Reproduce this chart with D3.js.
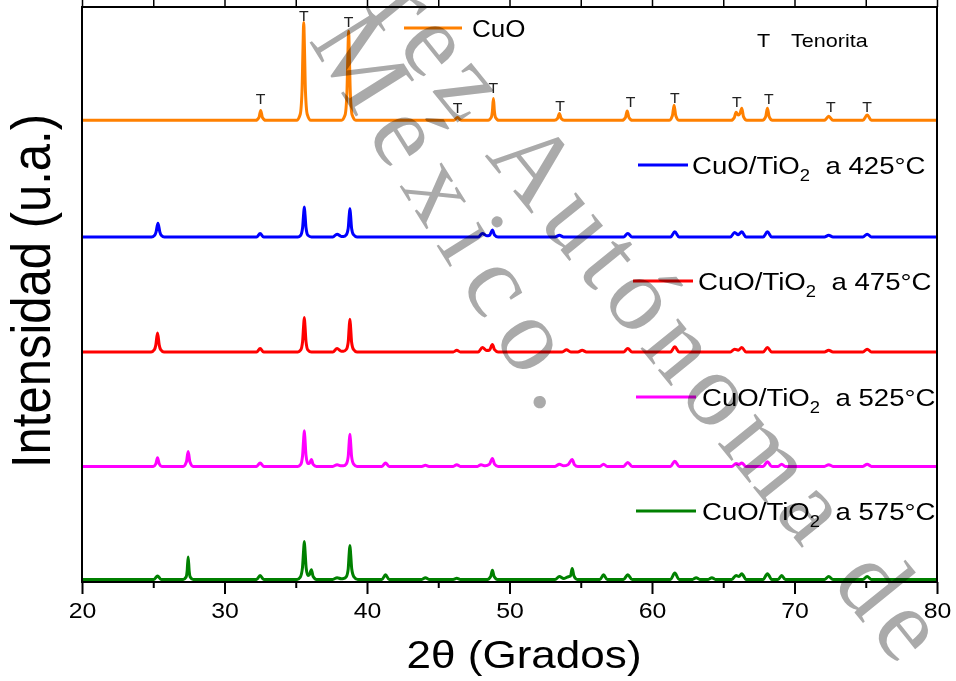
<!DOCTYPE html>
<html><head><meta charset="utf-8">
<script src="https://cdn.jsdelivr.net/npm/d3@7"></script>
<style>body{margin:0;background:#fff}svg{display:block}text{font-family:Arial,"Liberation Sans",sans-serif}</style>
</head><body>
<svg id="c" width="956" height="681"></svg>
<script>
// ---- data ([2θ, relative intensity]) ----
const cuo = [
[20,0],[32.19,0],[32.42,0.5],[32.54,1.7],[32.66,0.5],[32.89,0],
[35.06,0],[35.31,1.0],[35.44,5.1],[35.51,12.8],[35.56,17],[35.61,12.8],[35.68,5.1],[35.81,1.0],[36.06,0],
[38.21,0],[38.46,0.9],[38.59,4.7],[38.66,11.6],[38.71,15.5],[38.76,11.6],[38.83,4.7],[38.96,0.9],[39.21,0],
[46.1,0],[46.35,0.5],[46.6,0],
[48.5,0],[48.72,0.5],[48.8,1.6],[48.87,3.8],[48.94,1.6],[49.02,0.5],[49.25,0],
[53.15,0],[53.38,0.36],[53.5,1.2],[53.62,0.36],[53.85,0],
[57.9,0],[58.14,0.5],[58.26,1.6],[58.38,0.5],[58.62,0],
[61.2,0],[61.43,0.8],[61.55,2.6],[61.67,0.8],[61.9,0],
[65.55,0],[65.78,0.5],[65.9,1.4],[66.05,0.9],[66.18,1.2],[66.3,2.1],[66.42,0.65],[66.65,0],
[67.75,0],[67.98,0.65],[68.1,2.1],[68.22,0.65],[68.45,0],
[72.1,0],[72.4,0.7],[72.7,0],
[74.8,0],[75.1,0.9],[75.4,0],
[80,0]];
const t425 = [
[20,0],[24.88,0],[25.1,0.3],[25.2,0.9],[25.33,2.4],[25.46,0.9],[25.56,0.3],[25.78,0],
[32.25,0],[32.5,0.6],[32.75,0],
[35.15,0],[35.35,0.3],[35.48,1.6],[35.55,3.9],[35.6,5.2],[35.65,3.9],[35.72,1.6],[35.85,0.3],[36.1,0],
[37.6,0],[37.9,0.5],[38.2,0.1],[38.35,0.1],[38.55,0.4],[38.68,1.5],[38.75,3.7],[38.8,4.9],[38.85,3.7],[38.92,1.5],[39.05,0.4],[39.3,0],
[47.8,0],[48.1,0.6],[48.4,0.2],[48.6,0.3],[48.8,1.2],[48.95,0.35],[49.2,0],
[53.2,0],[53.5,0.3],[53.8,0],
[58.0,0],[58.3,0.6],[58.6,0],
[61.3,0],[61.6,0.9],[61.9,0],
[65.5,0],[65.8,0.8],[66.05,0.4],[66.3,0.9],[66.6,0],
[67.8,0],[68.1,0.9],[68.4,0],
[72.1,0],[72.4,0.3],[72.7,0],
[74.8,0],[75.1,0.5],[75.4,0],
[80,0]];
const t475 = [
[20,0],[24.85,0],[25.08,0.4],[25.18,1.2],[25.3,3.3],[25.42,1.2],[25.52,0.4],[25.75,0],
[32.25,0],[32.5,0.6],[32.75,0],
[35.15,0],[35.35,0.35],[35.48,1.8],[35.55,4.5],[35.6,6.0],[35.65,4.5],[35.72,1.8],[35.85,0.35],[36.1,0],
[37.6,0],[37.9,0.6],[38.2,0.15],[38.35,0.15],[38.55,0.45],[38.68,1.7],[38.75,4.3],[38.8,5.7],[38.85,4.3],[38.92,1.7],[39.05,0.45],[39.3,0],
[46.05,0],[46.3,0.3],[46.55,0],
[47.8,0],[48.1,0.8],[48.4,0.25],[48.6,0.35],[48.8,1.3],[48.95,0.4],[49.2,0],
[53.7,0],[54.0,0.4],[54.3,0],
[54.8,0],[55.1,0.3],[55.4,0],
[58.0,0],[58.3,0.6],[58.6,0],
[61.3,0],[61.6,0.9],[61.9,0],
[65.5,0],[65.8,0.5],[66.05,0.3],[66.3,0.8],[66.6,0],
[67.8,0],[68.1,0.8],[68.4,0],
[72.1,0],[72.4,0.3],[72.7,0],
[74.8,0],[75.1,0.5],[75.4,0],
[80,0]];
const t525 = [
[20,0],[25.0,0],[25.18,0.45],[25.3,1.5],[25.42,0.45],[25.6,0],
[27.1,0],[27.33,0.8],[27.45,2.6],[27.57,0.8],[27.8,0],
[32.25,0],[32.5,0.6],[32.75,0],
[35.15,0],[35.35,0.35],[35.48,1.9],[35.55,4.6],[35.6,6.2],[35.65,4.6],[35.72,1.9],[35.85,0.5],[35.95,0.5],[36.1,1.2],[36.22,0.35],[36.45,0],
[37.6,0],[37.9,0.3],[38.2,0.1],[38.35,0.1],[38.55,0.45],[38.68,1.7],[38.75,4.2],[38.8,5.6],[38.85,4.2],[38.92,1.7],[39.05,0.45],[39.3,0],
[41.05,0],[41.3,0.6],[41.55,0],
[43.85,0],[44.1,0.2],[44.35,0],
[46.05,0],[46.3,0.3],[46.55,0],
[47.75,0],[48.0,0.3],[48.3,0.1],[48.6,0.4],[48.8,1.4],[48.95,0.4],[49.2,0],
[53.2,0],[53.5,0.4],[53.8,0.1],[54.1,0.3],[54.4,1.2],[54.55,0.35],[54.8,0],
[56.35,0],[56.6,0.4],[56.85,0],
[58.0,0],[58.3,0.7],[58.6,0],
[61.3,0],[61.6,0.9],[61.9,0],
[65.6,0],[65.9,0.5],[66.1,0.35],[66.3,0.6],[66.6,0],
[67.8,0],[68.1,0.8],[68.4,0],
[68.85,0],[69.1,0.4],[69.35,0],
[72.1,0],[72.4,0.3],[72.7,0],
[74.8,0],[75.1,0.4],[75.4,0],
[80,0]];
const t575 = [
[20,0],[25.05,0],[25.3,0.6],[25.55,0],
[27.1,0],[27.3,0.4],[27.38,1.5],[27.45,3.9],[27.52,1.5],[27.6,0.4],[27.8,0],
[32.25,0],[32.5,0.7],[32.75,0],
[35.1,0],[35.32,0.4],[35.47,2.0],[35.55,5.0],[35.6,6.6],[35.65,5.0],[35.73,2.0],[35.85,0.7],[35.95,0.8],[36.1,1.7],[36.22,0.5],[36.45,0],
[37.6,0],[37.9,0.3],[38.2,0.1],[38.35,0.15],[38.55,0.5],[38.68,1.8],[38.75,4.5],[38.8,5.9],[38.85,4.5],[38.93,1.8],[39.07,0.5],[39.35,0],
[41.05,0],[41.3,0.8],[41.55,0],
[43.85,0],[44.1,0.3],[44.35,0],
[46.05,0],[46.3,0.2],[46.55,0],
[48.45,0],[48.68,0.5],[48.8,1.6],[48.92,0.5],[49.15,0],
[53.2,0],[53.5,0.5],[53.8,0.15],[54.05,0.4],[54.28,0.6],[54.4,1.9],[54.52,0.6],[54.75,0],
[56.35,0],[56.6,0.8],[56.85,0],
[58.0,0],[58.3,0.8],[58.6,0],
[61.3,0],[61.6,1.1],[61.9,0],
[62.85,0],[63.1,0.3],[63.35,0],
[63.95,0],[64.2,0.3],[64.45,0],
[65.6,0],[65.9,0.7],[66.1,0.5],[66.3,1.0],[66.6,0],
[67.8,0],[68.1,1.0],[68.4,0],
[68.85,0],[69.1,0.7],[69.35,0],
[72.1,0],[72.4,0.5],[72.7,0],
[74.8,0],[75.1,0.5],[75.4,0],
[80,0]];

const seriesNames = ["CuO", "CuO/TiO2 a 425°C", "CuO/TiO2 a 475°C", "CuO/TiO2 a 525°C", "CuO/TiO2 a 575°C"];
const seriesData = [cuo, t425, t475, t525, t575];
const seriesOffsets = [80.3, 60, 40, 20.1, 0.45];
const seriesColors = ["#ff8000", "#0000ff", "#ff0000", "#ff00ff", "#008000"];
const legendTemps = [null, "425°C", "475°C", "525°C", "575°C"];

// Tenorite peak marks: [2θ, label height above CuO baseline]
const tenoritePeaks = [[32.54,2.8],[35.56,17.2],[38.71,16.3],[46.35,1.2],[48.87,4.7],[53.55,1.7],[58.5,2.3],[61.6,3.0],[65.95,2.3],[68.2,2.8],[72.55,1.4],[75.1,1.4]];

const xMajorTicks = [20,30,40,50,60,70,80];
const xMinorTicks = [25,35,45,55,65,75];
const xTitle = "2θ (Grados)";
const yTitle = "Intensidad (u.a.)";
const watermarkLines = ["rez Autónoma de", "México."];

// ---- chart ----
const svg = d3.select("#c");
const L = 82, R = 937, T = 7, B = 582;
const SX = 1.13; // horizontal stretch of the reference's text
const x = d3.scaleLinear().domain([20,80]).range([L,R]);
const y = d3.scaleLinear().domain([0,100]).range([B,T]);

// series
const line = d3.line().curve(d3.curveMonotoneX);
seriesData.forEach((data, i) => {
  svg.append("path")
    .attr("d", line(data.map(d => [x(d[0]), y(d[1] + seriesOffsets[i])])))
    .attr("fill", "none")
    .attr("stroke", seriesColors[i])
    .attr("stroke-width", 3)
    .attr("stroke-linejoin", "round");
});

// tenorite labels
svg.append("g").selectAll("text").data(tenoritePeaks).join("text")
  .attr("transform", d => `translate(${x(d[0])},${y(d[1] + seriesOffsets[0])}) scale(${SX},1)`)
  .attr("text-anchor", "middle").attr("font-size", 14).attr("fill", "#222")
  .text("T");

// axes
const bottomAxis = svg.append("g").attr("transform", `translate(0,${B})`)
  .call(d3.axisBottom(x).tickValues(xMajorTicks).tickSize(12).tickSizeOuter(0).tickPadding(8).tickFormat(d3.format("d")));
bottomAxis.select(".domain").remove();
bottomAxis.selectAll(".tick line").attr("stroke-width", 2);
bottomAxis.selectAll(".tick text").attr("font-size", 22).attr("fill", "#000")
  .attr("transform", `scale(${SX},1)`)
  .attr("font-family", "Arial, 'Liberation Sans', sans-serif");
const bottomMinor = svg.append("g").attr("transform", `translate(0,${B})`)
  .call(d3.axisBottom(x).tickValues(xMinorTicks).tickSize(6).tickFormat(""));
bottomMinor.select(".domain").remove();
bottomMinor.selectAll(".tick line").attr("stroke-width", 2);

const topAxis = svg.append("g").attr("transform", `translate(0,${T})`)
  .call(d3.axisTop(x).tickValues(xMajorTicks.concat(xMinorTicks)).tickSize(7).tickFormat(""));
topAxis.select(".domain").remove();
topAxis.selectAll(".tick line").attr("stroke-width", 1.5);

svg.append("rect").attr("x", L).attr("y", T).attr("width", R - L).attr("height", B - T)
  .attr("fill", "none").attr("stroke", "#000").attr("stroke-width", 2);

// axis titles
svg.append("text").attr("transform", `translate(524,668) scale(${SX},1)`).attr("text-anchor", "middle")
  .attr("font-size", 39).attr("fill", "#000").text(xTitle);
svg.append("text").attr("transform", `translate(50,291) scale(${SX},1) rotate(-90)`).attr("text-anchor", "middle")
  .attr("font-size", 49).attr("fill", "#000").text(yTitle);

// legend
const legendPos = [[404,462,28,472,37],[638,688,165,692,174],[633,693,281,698,290],[636,696,397,702,406],[636,696,511,702,520]];
seriesData.forEach((d, i) => {
  const p = legendPos[i];
  svg.append("line").attr("x1", p[0]).attr("x2", p[1]).attr("y1", p[2]).attr("y2", p[2])
    .attr("stroke", seriesColors[i]).attr("stroke-width", 3);
  const t = svg.append("text")
    .attr("transform", `translate(${p[3]},${p[4]}) scale(${i === 0 ? SX : 1.15},1)`)
    .attr("font-size", i === 0 ? 23 : 24).attr("fill", "#000").style("white-space", "pre");
  if (i === 0) { t.text(seriesNames[0]); }
  else {
    t.append("tspan").text("CuO/TiO");
    t.append("tspan").attr("dy", 7).attr("font-size", 16).text("2");
    t.append("tspan").attr("dy", -7).text("  a " + legendTemps[i]);
  }
});
svg.append("text").attr("transform", `translate(757,47) scale(1.2,1)`).attr("font-size", 18).attr("fill", "#000").text("T");
svg.append("text").attr("transform", `translate(791,47) scale(1.2,1)`).attr("font-size", 18).attr("fill", "#000").text("Tenorita");

// watermark
const wm = svg.append("g").style("mix-blend-mode", "multiply").attr("fill", "#aaaaaa")
  .attr("font-size", 105);
const wmFont = "'Liberation Serif', 'DejaVu Serif', serif";
wm.append("text").attr("transform", "translate(368,12) rotate(51)").attr("letter-spacing", 9)
  .style("font-family", wmFont).text(watermarkLines[0]);
wm.append("text").attr("transform", "translate(308,40) rotate(58)").attr("letter-spacing", 16)
  .style("font-family", wmFont).text(watermarkLines[1]);
</script>
</body></html>
